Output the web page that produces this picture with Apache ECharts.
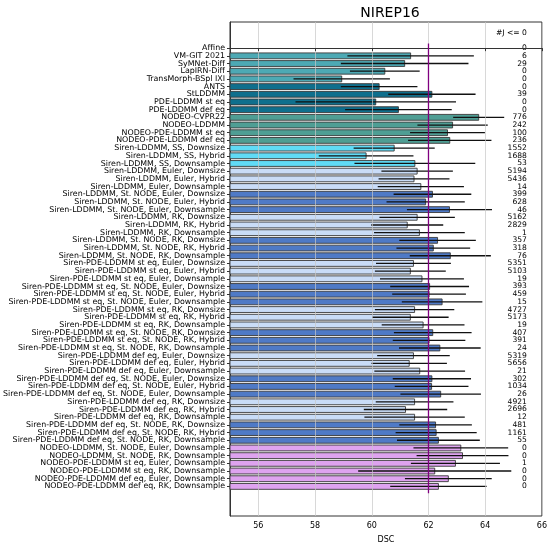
<!DOCTYPE html>
<html>
<head>
<meta charset="utf-8">
<script src="https://cdn.jsdelivr.net/npm/echarts@6/dist/echarts.min.js"></script>
<style>
  html, body { margin: 0; padding: 0; background: #fff; }
  #chart { width: 550px; height: 549px; }
</style>
</head>
<body>
<div id="chart"></div>
<script>
const categories = [
  'Affine', 'VM-GIT 2021', 'SyMNet-Diff', 'LapIRN-Diff', 'TransMorph-BSpl IXI', 'ANTS', 'StLDDMM',
  'PDE-LDDMM st eq', 'PDE-LDDMM def eq', 'NODEO-CVPR22', 'NODEO-LDDMM', 'NODEO-PDE-LDDMM st eq',
  'NODEO-PDE-LDDMM def eq',
  'Siren-LDDMM, SS, Downsize', 'Siren-LDDMM, SS, Hybrid', 'Siren-LDDMM, SS, Downsample',
  'Siren-LDDMM, Euler, Downsize', 'Siren-LDDMM, Euler, Hybrid', 'Siren-LDDMM, Euler, Downsample',
  'Siren-LDDMM, St. NODE, Euler, Downsize', 'Siren-LDDMM, St. NODE, Euler, Hybrid', 'Siren-LDDMM, St. NODE, Euler, Downsample',
  'Siren-LDDMM, RK, Downsize', 'Siren-LDDMM, RK, Hybrid', 'Siren-LDDMM, RK, Downsample',
  'Siren-LDDMM, St. NODE, RK, Downsize', 'Siren-LDDMM, St. NODE, RK, Hybrid', 'Siren-LDDMM, St. NODE, RK, Downsample',
  'Siren-PDE-LDDMM st eq, Euler, Downsize', 'Siren-PDE-LDDMM st eq, Euler, Hybrid', 'Siren-PDE-LDDMM st eq, Euler, Downsample',
  'Siren-PDE-LDDMM st eq, St. NODE, Euler, Downsize', 'Siren-PDE-LDDMM st eq, St. NODE, Euler, Hybrid', 'Siren-PDE-LDDMM st eq, St. NODE, Euler, Downsample',
  'Siren-PDE-LDDMM st eq, RK, Downsize', 'Siren-PDE-LDDMM st eq, RK, Hybrid', 'Siren-PDE-LDDMM st eq, RK, Downsample',
  'Siren-PDE-LDDMM st eq, St. NODE, RK, Downsize', 'Siren-PDE-LDDMM st eq, St. NODE, RK, Hybrid', 'Siren-PDE-LDDMM st eq, St. NODE, RK, Downsample',
  'Siren-PDE-LDDMM def eq, Euler, Downsize', 'Siren-PDE-LDDMM def eq, Euler, Hybrid', 'Siren-PDE-LDDMM def eq, Euler, Downsample',
  'Siren-PDE-LDDMM def eq, St. NODE, Euler, Downsize', 'Siren-PDE-LDDMM def eq, St. NODE, Euler, Hybrid', 'Siren-PDE-LDDMM def eq, St. NODE, Euler, Downsample',
  'Siren-PDE-LDDMM def eq, RK, Downsize', 'Siren-PDE-LDDMM def eq, RK, Hybrid', 'Siren-PDE-LDDMM def eq, RK, Downsample',
  'Siren-PDE-LDDMM def eq, St. NODE, RK, Downsize', 'Siren-PDE-LDDMM def eq, St. NODE, RK, Hybrid', 'Siren-PDE-LDDMM def eq, St. NODE, RK, Downsample',
  'NODEO-LDDMM, St. NODE, Euler, Downsample', 'NODEO-LDDMM, St. NODE, RK, Downsample',
  'NODEO-PDE-LDDMM st eq, Euler, Downsample', 'NODEO-PDE-LDDMM st eq, RK, Downsample',
  'NODEO-PDE-LDDMM def eq, Euler, Downsample', 'NODEO-PDE-LDDMM def eq, RK, Downsample'
];

// mean DSC (Affine is off the left of the axis)
const means = [
  null, 61.37, 61.16, 60.46, 58.94, 60.26, 62.12, 60.14, 60.94, 63.77, 62.85, 62.67, 62.75,
  60.79, 59.80, 61.52, 61.60, 61.49, 61.73, 62.14, 61.90, 62.74, 61.60, 61.25, 61.68, 62.32, 62.17, 62.77,
  61.47, 61.36, 61.77, 62.04, 62.02, 62.48, 61.51, 61.36, 61.81, 62.15, 62.02, 62.40,
  61.47, 61.32, 61.69, 62.12, 62.11, 62.43, 61.51, 61.19, 61.51, 62.25, 62.27, 62.35,
  63.14, 63.20, 62.95, 62.22, 62.70, 62.35
];

// std DSC (error bar half width)
const stds = [
  null, 2.23, 2.25, 1.23, 1.70, 1.35, 1.54, 2.83, 1.88, 0.90, 1.24, 1.32, 1.47,
  1.43, 1.67, 2.13, 1.26, 1.25, 1.52, 1.37, 1.38, 1.50, 1.33, 1.27, 1.60, 1.35, 1.30, 1.43,
  1.32, 1.25, 1.48, 1.39, 1.30, 1.42, 1.40, 1.35, 1.46, 1.37, 1.28, 1.44,
  1.28, 1.33, 1.60, 1.38, 1.30, 1.42, 1.37, 1.47, 1.77, 1.28, 1.43, 1.46,
  1.67, 1.62, 1.57, 2.70, 1.53, 1.70
];

// number of voxels with jacobian determinant <= 0
const negJ = [
  0, 6, 29, 0, 0, 0, 39, 0, 0, 776, 242, 100, 236,
  1552, 1688, 53, 5194, 5436, 14, 399, 628, 46, 5162, 2829, 1, 357, 318, 76,
  5351, 5103, 19, 393, 459, 15, 4727, 5173, 19, 407, 391, 24,
  5319, 5656, 21, 302, 1034, 26, 4921, 2696, 12, 481, 1161, 55,
  0, 0, 1, 0, 0, 0
];

const xTicks = [56, 58, 60, 62, 64, 66];
const refLine = [[62, -0.6, 57.9]];

const FONT = 'DejaVu Sans';

function colorFor(name) {
  if (/^(VM-GIT|SyMNet|LapIRN|TransMorph)/.test(name)) return '#4da9b4';
  if (/^(ANTS|StLDDMM|PDE-LDDMM)/.test(name)) return '#0f6f8d';
  if (/^NODEO/.test(name)) return name.indexOf(',') >= 0 ? '#dea3ef' : '#4f9e94';
  if (name.indexOf(', SS,') >= 0) return '#60dbf6';
  if (name.indexOf('St. NODE') >= 0) return '#4f7ac6';
  return '#c9dcf7';
}

const barData = categories.map((c, i) => [i, means[i], stds[i]]);
const yIdx = categories.map((c, i) => i);
// empty guard labels at both ends so echarts' min/max overlap check leaves real labels alone
const leftLabelPos = [-3.3].concat(yIdx, [60.7]);
const rightLabelPos = [-3.3, -2].concat(yIdx, [60.7]);

const chart = echarts.init(document.getElementById('chart'), null, { renderer: 'canvas' });

chart.setOption({
  animation: false,
  backgroundColor: '#fff',
  textStyle: { fontFamily: FONT },
  title: {
    text: 'NIREP16',
    left: 385,
    top: 1,
    textAlign: 'center',
    textStyle: { fontFamily: FONT, fontSize: 14, fontWeight: 'normal', color: '#000' }
  },
  grid: {
    left: 228, right: 8, top: 22, bottom: 27,
    show: true, borderColor: '#333', borderWidth: 1, backgroundColor: 'transparent'
  },
  xAxis: {
    type: 'value',
    min: 55, max: 66,
    z: 3,
    name: 'DSC',
    nameLocation: 'middle',
    nameGap: 20,
    nameTextStyle: { fontFamily: FONT, fontSize: 8, color: '#000' },
    axisLine: { show: true, lineStyle: { color: '#333', width: 1 } },
    axisTick: { show: true, length: 3, customValues: xTicks, lineStyle: { color: '#333' } },
    axisLabel: { customValues: xTicks, fontFamily: FONT, fontSize: 8, color: '#000', margin: 6 },
    splitLine: { show: true, lineStyle: { color: 'rgba(200,200,200,0.7)', width: 1 } }
  },
  yAxis: [{
    type: 'value',
    inverse: true,
    min: -3.4, max: 60.85,
    axisLine: { show: true, lineStyle: { color: '#333', width: 1 } },
    axisTick: { show: true, length: 3, customValues: yIdx, lineStyle: { color: '#333' } },
    axisLabel: {
      customValues: leftLabelPos,
      hideOverlap: false,
      fontFamily: FONT, fontSize: 7.9, color: '#000', margin: 5,
      formatter: v => (Number.isInteger(v) ? categories[v] || '' : '')
    },
    splitLine: { show: false }
  }, {
    type: 'value',
    inverse: true,
    position: 'right',
    min: -3.4, max: 60.85,
    axisLine: { show: false },
    axisTick: { show: false },
    axisLabel: {
      inside: true,
      customValues: rightLabelPos,
      hideOverlap: false,
      fontFamily: FONT, fontSize: 7.6, color: '#000', margin: 15,
      formatter: v => {
        if (v === -2) return '#J <= 0';
        return Number.isInteger(v) && v >= 0 && v < negJ.length ? String(negJ[v]) : '';
      }
    },
    splitLine: { show: false }
  }],
  series: [{
    type: 'custom',
    name: 'DSC',
    z: 2,
    encode: { x: 1, y: 0 },
    data: barData,
    renderItem: (params, api) => {
      const m = api.value(1);
      if (m == null || isNaN(m)) return null;
      const y = api.value(0);
      const s = api.value(2);
      const h = api.size([0, 1])[1] * 0.76;
      const p0 = api.coord([0, y]);
      const p1 = api.coord([m, y]);
      const rect = echarts.graphic.clipRectByRect(
        { x: p0[0], y: p1[1] - h / 2, width: p1[0] - p0[0], height: h },
        { x: params.coordSys.x, y: params.coordSys.y, width: params.coordSys.width, height: params.coordSys.height }
      );
      const e0 = api.coord([m - s, y]);
      const e1 = api.coord([m + s, y]);
      return {
        type: 'group',
        children: [
          rect && {
            type: 'rect',
            shape: rect,
            style: { fill: colorFor(categories[y]), stroke: '#3a3a3a', lineWidth: 0.9 }
          },
          {
            type: 'line',
            shape: { x1: e0[0], y1: e0[1], x2: e1[0], y2: e1[1] },
            style: { stroke: '#111', lineWidth: 1.3 }
          }
        ].filter(Boolean)
      };
    }
  }, {
    type: 'custom',
    name: 'ref',
    z: 4,
    data: refLine,
    encode: { x: 0, y: [1, 2] },
    renderItem: (params, api) => {
      const a = api.coord([api.value(0), api.value(1)]);
      const b = api.coord([api.value(0), api.value(2)]);
      return {
        type: 'line',
        shape: { x1: a[0], y1: a[1], x2: b[0], y2: b[1] },
        style: { stroke: '#800080', lineWidth: 1.3 }
      };
    }
  }]
});
</script>
</body>
</html>
